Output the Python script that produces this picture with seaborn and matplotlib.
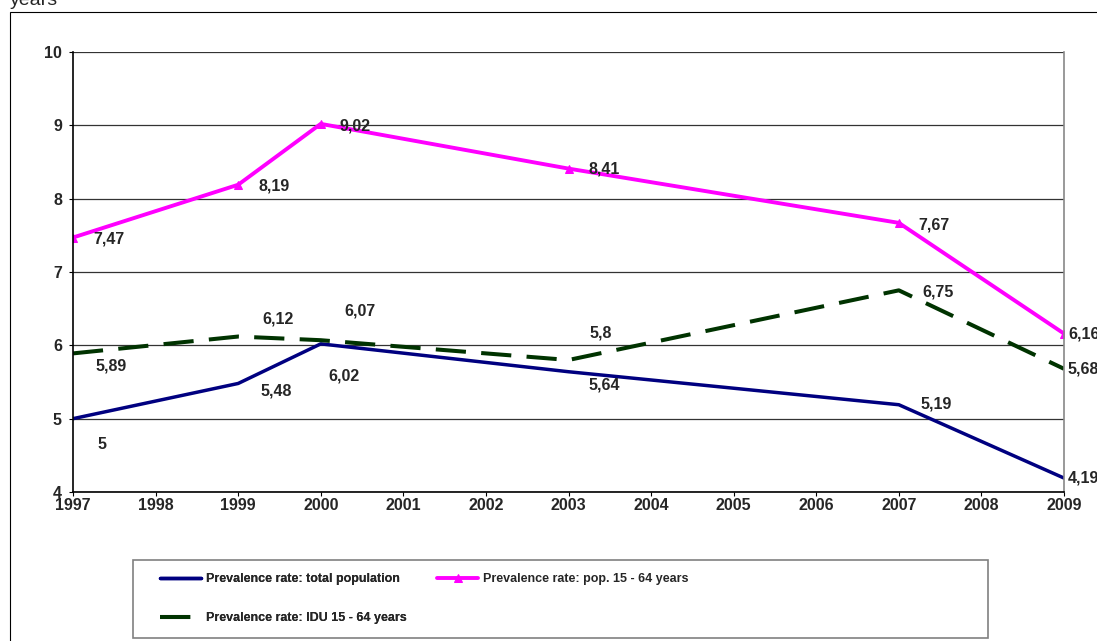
import matplotlib
matplotlib.use("Agg")
import matplotlib.pyplot as plt
from matplotlib import font_manager
import pandas as pd
import seaborn as sns
from matplotlib.patches import Rectangle

sns.set_style("white")
plt.rcParams['font.family'] = ['Liberation Sans', 'DejaVu Sans']

# data
years = [1997, 1999, 2000, 2003, 2007, 2009]
all_years = list(range(1997, 2010))
total_pop = [5, 5.48, 6.02, 5.64, 5.19, 4.19]
pop_15_64 = [7.47, 8.19, 9.02, 8.41, 7.67, 6.16]
idu_15_64 = [5.89, 6.12, 6.07, 5.8, 6.75, 5.68]

names = ["Prevalence rate: total population",
         "Prevalence rate: pop. 15 - 64 years",
         "Prevalence rate: IDU 15 - 64 years"]

df = pd.DataFrame({"year": years, names[0]: total_pop,
                   names[1]: pop_15_64, names[2]: idu_15_64})

fig = plt.figure(figsize=(10.97, 6.41), dpi=100)
ax = fig.add_axes([73/1097, 1-492/641, (1064-73)/1097, (492-52)/641])

sns.lineplot(data=df, x="year", y=names[0], ax=ax, color="#000080",
             lw=2.5, label=names[0])
sns.lineplot(data=df, x="year", y=names[1], ax=ax, color="#FF00FF", lw=2.8,
             marker="^", markersize=6, markeredgecolor="#FF00FF", label=names[1])
sns.lineplot(data=df, x="year", y=names[2], ax=ax, color="#003300", lw=2.9,
             dashes=(7.5, 3.8), label=names[2])
ax.get_legend().remove()

# value labels, offsets in pixels
offs_tot = [(24, -26), (22, -8), (8, -32), (20, -13), (22, 1), (4, 0)]
offs_pop = [(20, -1), (20, -1), (19, -2), (20, 0), (20, -2), (4, 0)]
offs_idu = [(23, -13), (24, 18), (24, 29), (21, 27), (24, -2), (4, 0)]
for vals, offs in [(total_pop, offs_tot), (pop_15_64, offs_pop), (idu_15_64, offs_idu)]:
    for x, v, o in zip(years, vals, offs):
        txt = ("%g" % v).replace(".", ",")
        ax.annotate(txt, (x, v), xytext=o, textcoords="offset pixels",
                    ha="left", va="center", fontsize=11.5, fontweight="bold",
                    annotation_clip=False)

ax.set_xlim(1997, 2009)
ax.set_ylim(4, 10)
ax.set_xticks(all_years)
ax.set_xticklabels([str(y) for y in all_years], fontsize=11.5, fontweight="bold")
ax.set_yticks(range(4, 11))
ax.set_yticklabels([str(v) for v in range(4, 11)], fontsize=11.5, fontweight="bold")
ax.set_xlabel("")
ax.set_ylabel("")
ax.grid(axis="y", color="#333333", lw=0.9)
ax.grid(axis="x", visible=False)
ax.tick_params(axis="x", length=3, width=0.8, color="black", direction="out",
               bottom=True, pad=1.5)
ax.tick_params(axis="y", length=3, width=0.8, color="black", direction="out",
               left=True, pad=5)
for s in ["left", "bottom"]:
    ax.spines[s].set_color("black")
    ax.spines[s].set_linewidth(1.2)
ax.spines["top"].set_visible(False)
ax.spines["right"].set_color("#888888")
ax.spines["right"].set_linewidth(1.2)

# outer chart frame and cut-off title
fig.patches.append(Rectangle((10/1097, -0.1), 1.2, 1 - 12/641 + 0.1,
                             transform=fig.transFigure, fill=False,
                             edgecolor="black", lw=0.8))
fig.text(10/1097, 1 - 5/641, "years", fontsize=14, va="baseline", ha="left")

# legend: narrow bold font if we have it
installed = {f.name for f in font_manager.fontManager.ttflist}
if "Liberation Sans Narrow" in installed:
    lprop = {"family": "Liberation Sans Narrow", "weight": "bold", "size": 10}
else:
    lprop = {"weight": "bold", "size": 9}

fig.patches.append(Rectangle((133/1097, 3/641), 855/1097, 78/641,
                             transform=fig.transFigure, fill=False,
                             edgecolor="#808080", lw=1.2))
h, l = ax.get_legend_handles_labels()
leg1 = fig.legend([h[0], h[2]], [l[0], l[2]], loc="upper left",
                  bbox_to_anchor=(160/1097, 1 - 573/641), prop=lprop,
                  handlelength=3.3, handletextpad=0.4, labelspacing=2.15,
                  borderpad=0, borderaxespad=0, frameon=False)
leg2 = fig.legend([h[1]], [l[1]], loc="upper left",
                  bbox_to_anchor=(437/1097, 1 - 573/641), prop=lprop,
                  handlelength=3.3, handletextpad=0.4,
                  borderpad=0, borderaxespad=0, frameon=False)
fig.add_artist(leg1)

fig.savefig("out.png", dpi=100)
